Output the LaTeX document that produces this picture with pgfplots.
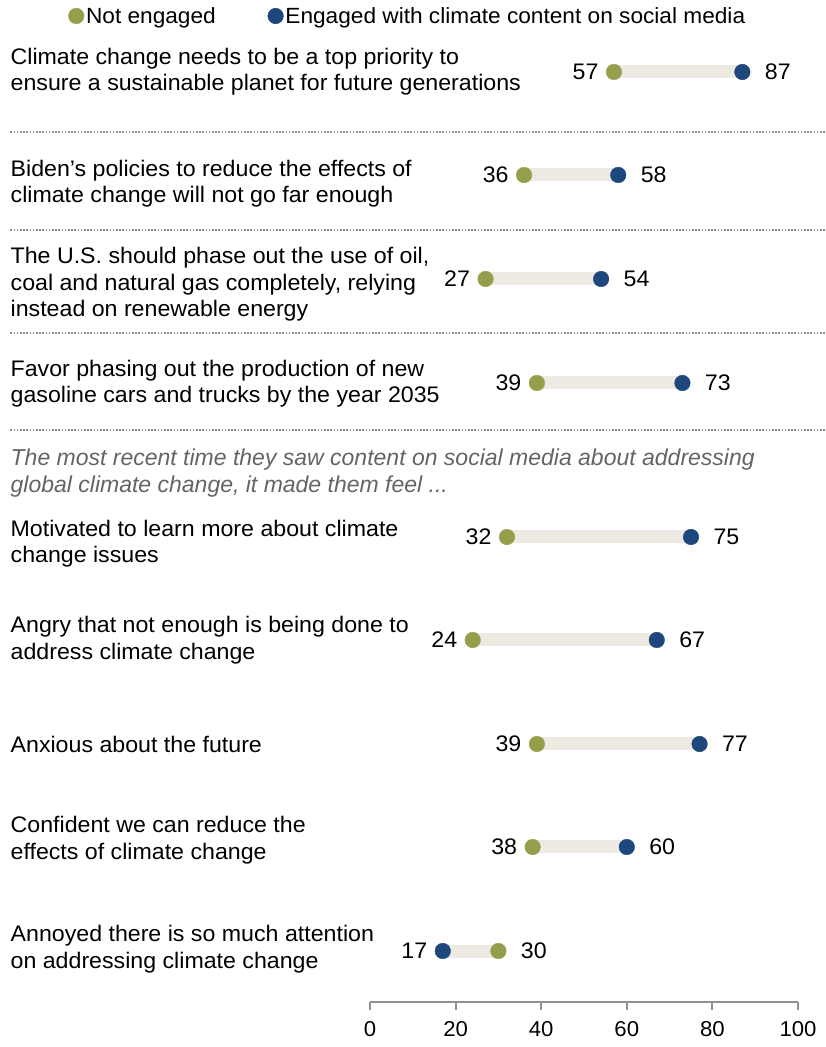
\documentclass[border=0pt]{standalone}
\usepackage{pgfplots}
\usepackage{pgfplotstable}
\pgfplotsset{compat=1.18}
\usepackage{fontspec}
\setmainfont{Liberation Sans}[FakeStretch=1.03]
\newfontfamily\itfam{Liberation Sans}
\definecolor{grn}{RGB}{149,159,75}
\definecolor{blu}{RGB}{30,72,125}
\definecolor{barc}{RGB}{237,234,227}
\definecolor{axgray}{RGB}{145,145,145}
\definecolor{sepgray}{RGB}{140,140,140}
\definecolor{itgray}{RGB}{100,100,100}
\newcommand{\rowfont}{\fontsize{22.5}{27}\selectfont}

% y = vertical position of each row; notv = not engaged, engv = engaged
\pgfplotstableread{
y   notv engv lo hi
975 57   87   57 87
872 36   58   36 58
768 27   54   27 54
664 39   73   39 73
510 32   75   32 75
407 24   67   24 67
303 39   77   39 77
200 38   60   38 60
96  30   17   17 30
}\data

\begin{document}
\begin{tikzpicture}
\begin{axis}[
  at={(0pt,0pt)}, anchor=south west,
  scale only axis, width=428pt, height=1002pt,
  xmin=0, xmax=100, ymin=45, ymax=1047,
  axis x line=bottom, axis y line=none,
  axis line style={axgray, line width=2pt, -},
  xtick={0,20,40,60,80,100},
  tick align=outside, major tick length=8pt,
  x tick style={axgray, line width=2pt},
  xticklabel style={font=\fontsize{21.5}{24}\selectfont, yshift=-8pt},
  /pgf/number format/assume math mode=true,
  clip=false,
  legend columns=-1,
  legend style={draw=none, fill=none, at={(axis cs:-70.5,1031)}, anchor=west,
    font=\fontsize{22}{26}\selectfont, inner sep=0pt,
    nodes={inner sep=2pt},
    /tikz/every even column/.append style={column sep=50pt}},
  legend image code/.code={\draw[#1] plot coordinates {(0pt,0pt)};},
]
% connecting bars
\addplot[forget plot, barc, line width=13pt, mark=none,
  quiver={u=\thisrow{hi}-\thisrow{lo}, v=0}] table[x=lo, y=y] {\data};
% dots
\addplot[only marks, mark=*, mark size=7.8pt, grn, mark options={draw=none, fill=grn}]
  table[x=notv, y=y] {\data};
\addlegendentry{Not engaged}
\addplot[only marks, mark=*, mark size=7.8pt, blu, mark options={draw=none, fill=blu}]
  table[x=engv, y=y] {\data};
\addlegendentry{Engaged with climate content on social media}
% value labels
\addplot[forget plot, draw=none, mark=none, nodes near coords, point meta=explicit symbolic,
  nodes near coords style={anchor=east, xshift=-12pt, font=\fontsize{22.5}{26}\selectfont, text=black}]
  table[x=lo, y=y, meta=lo] {\data};
\addplot[forget plot, draw=none, mark=none, nodes near coords, point meta=explicit symbolic,
  nodes near coords style={anchor=west, xshift=19pt, font=\fontsize{22.5}{26}\selectfont, text=black}]
  table[x=hi, y=y, meta=hi] {\data};

% separators
\foreach \yy in {915,817,714,617}{
  \edef\temp{\noexpand\draw[sepgray, line width=1.5pt, dash pattern=on 1.5pt off 1.7pt]
    (axis cs:-84,\yy) -- (axis cs:106.3,\yy);}\temp
}
% row labels
\begin{scope}[every node/.style={anchor=base west, inner sep=0pt, font=\rowfont}]
\node at (axis cs:-84,982.5) {Climate change needs to be a top priority to};
\node at (axis cs:-84,956) {ensure a sustainable planet for future generations};
\node at (axis cs:-84,870.3) {Biden's policies to reduce the effects of};
\node at (axis cs:-84,844) {climate change will not go far enough};
\node at (axis cs:-84,783) {The U.S. should phase out the use of oil,};
\node at (axis cs:-84,756) {coal and natural gas completely, relying};
\node at (axis cs:-84,730) {instead on renewable energy};
\node at (axis cs:-84,670.3) {Favor phasing out the production of new};
\node at (axis cs:-84,644) {gasoline cars and trucks by the year 2035};
\node[font=\fontsize{23}{27}\selectfont\itfam\itshape, text=itgray] at (axis cs:-84,581) {The most recent time they saw content on social media about addressing};
\node[font=\fontsize{23}{27}\selectfont\itfam\itshape, text=itgray] at (axis cs:-84,554) {global climate change, it made them feel ...};
\node at (axis cs:-84,510.3) {Motivated to learn more about climate};
\node at (axis cs:-84,484) {change issues};
\node at (axis cs:-84,414) {Angry that not enough is being done to};
\node at (axis cs:-84,387) {address climate change};
\node at (axis cs:-84,294) {Anxious about the future};
\node at (axis cs:-84,214) {Confident we can reduce the};
\node at (axis cs:-84,187) {effects of climate change};
\node at (axis cs:-84,105) {Annoyed there is so much attention};
\node at (axis cs:-84,79) {on addressing climate change};
\end{scope}
\coordinate (bbl) at (axis cs:-86.449,0);
\coordinate (bbr) at (axis cs:106.308,1047);
\end{axis}
\pgfresetboundingbox
\path[use as bounding box] (bbl) rectangle (bbr);
\end{tikzpicture}
\end{document}
